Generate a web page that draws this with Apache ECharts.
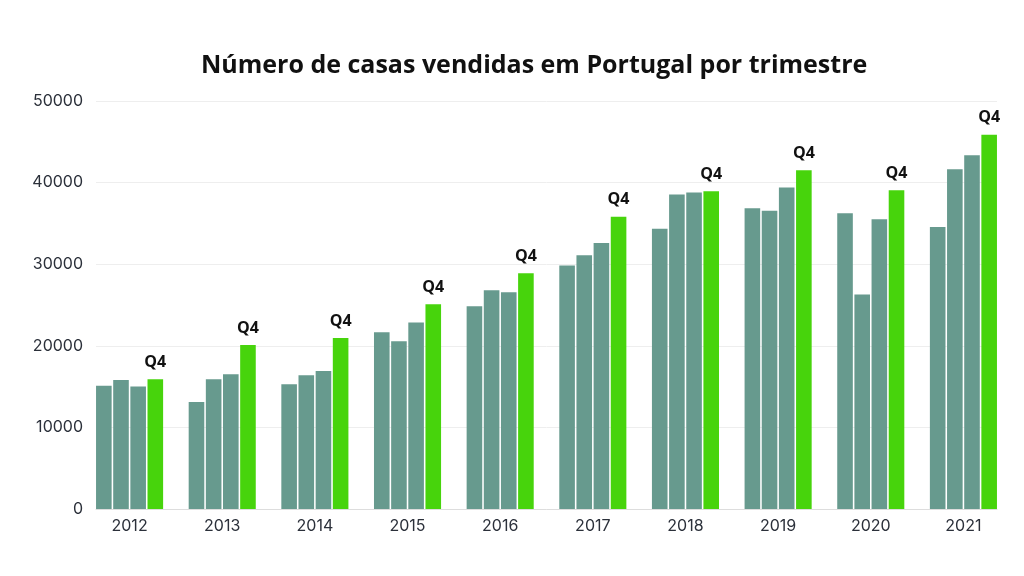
<!DOCTYPE html>
<html lang="pt">
<head>
  <meta charset="UTF-8">
  <title>Casas vendidas</title>
  <style>
    html, body { margin: 0; padding: 0; background: #fff; }
    #main { width: 1024px; height: 576px; }
  </style>
</head>
<body>
  <div id="main"></div>
  <script src="https://cdn.jsdelivr.net/npm/echarts@6/dist/echarts.min.js"></script>
  <script>
    var years = ['2012', '2013', '2014', '2015', '2016', '2017', '2018', '2019', '2020', '2021']
    var q1 = [15100, 13100, 15300, 21650, 24850, 29850, 34350, 36850, 36250, 34550]
    var q2 = [15800, 15900, 16400, 20550, 26800, 31100, 38550, 36550, 26300, 41650]
    var q3 = [15000, 16500, 16900, 22850, 26550, 32600, 38800, 39400, 35500, 43350]
    var q4 = [15900, 20100, 20950, 25100, 28900, 35800, 38950, 41500, 39050, 45850]
    var quarterNames = ['Q1', 'Q2', 'Q3', 'Q4']

    var grey = '#679a8e'
    var green = '#47d40c'

    var myChart = echarts.init(document.getElementById('main'))

    function makeSeries(name, data, color, withLabel) {
      return {
        name: name,
        type: 'bar',
        xAxisIndex: 1,
        yAxisIndex: 1,
        data: data,
        barGap: '10%',
        barCategoryGap: '27.6%',
        itemStyle: { color: color },
        label: {
          show: withLabel,
          position: 'top',
          formatter: name,
          fontFamily: 'Open Sans',
          fontWeight: 'bold',
          fontSize: 16,
          color: '#111',
          distance: 9
        }
      }
    }

    // grid 0 draws the value axis, split lines and base line
    // grid 1 holds the bars, so the groups touch the ends of the base line
    var option = {
      animation: false,
      title: {
        text: 'Número de casas vendidas em Portugal por trimestre',
        left: 196,
        top: 48,
        textStyle: {
          fontFamily: 'Open Sans',
          fontWeight: 'bold',
          fontSize: 25,
          color: '#111'
        }
      },
      grid: [
        { left: 96, right: 27, top: 101, bottom: 67 },
        { left: 83.25, right: 14.25, top: 101, bottom: 67 }
      ],
      xAxis: [
        {
          gridIndex: 0,
          type: 'value',
          min: 0,
          max: 1,
          axisLabel: { show: false },
          axisTick: { show: false },
          splitLine: { show: false },
          axisLine: { show: true, lineStyle: { color: '#dddddd', width: 1 } }
        },
        {
          gridIndex: 1,
          type: 'category',
          data: years,
          axisTick: { show: false },
          axisLine: { show: false },
          axisLabel: { fontFamily: 'Inter', fontSize: 16, color: '#2b303a', margin: 9 }
        }
      ],
      yAxis: [
        {
          gridIndex: 0,
          type: 'value',
          min: 0,
          max: 50000,
          interval: 10000,
          axisLine: { show: false },
          axisTick: { show: false },
          splitLine: { lineStyle: { color: '#eeeeee' } },
          axisLabel: {
            fontFamily: 'Inter',
            fontSize: 16,
            color: '#2b303a',
            margin: 13,
            formatter: function (v) { return String(v) }
          }
        },
        {
          gridIndex: 1,
          type: 'value',
          min: 0,
          max: 50000,
          show: false,
          splitLine: { show: false }
        }
      ],
      series: [
        makeSeries(quarterNames[0], q1, grey, false),
        makeSeries(quarterNames[1], q2, grey, false),
        makeSeries(quarterNames[2], q3, grey, false),
        makeSeries(quarterNames[3], q4, green, true)
      ]
    }

    myChart.setOption(option)
  </script>
</body>
</html>
